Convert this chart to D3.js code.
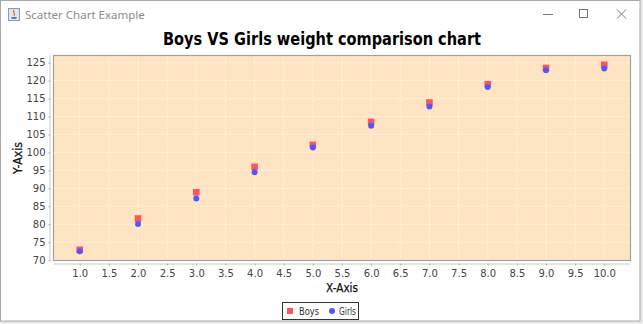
<!DOCTYPE html>
<html><head><meta charset="utf-8">
<script src="https://cdn.jsdelivr.net/npm/d3@7"></script>
<style>
html,body{margin:0;padding:0;background:#e8e8e8;}
svg{display:block;}
</style></head>
<body>
<script>
const xValues = [1, 2, 3, 4, 5, 6, 7, 8, 9, 10];
const boys  = [72.9, 81.6, 88.9, 96.0, 102.1, 108.5, 113.9, 119.0, 123.5, 124.4];
const girls = [72.5, 80.1, 87.2, 94.5, 101.4, 107.4, 112.8, 118.2, 122.9, 123.4];
const xTicks = [1.0,1.5,2.0,2.5,3.0,3.5,4.0,4.5,5.0,5.5,6.0,6.5,7.0,7.5,8.0,8.5,9.0,9.5,10.0];
const yTicks = [70,75,80,85,90,95,100,105,110,115,120,125];
const seriesNames = ["Boys", "Girls"];
const seriesColors = ["#ff5555", "#5555ff"];
const chartTitle = "Boys VS Girls weight comparison chart";
const windowTitle = "Scatter Chart Example";

const W = 643, H = 324;
const svg = d3.select("body").append("svg").attr("width", W).attr("height", H);

// window frame
svg.append("rect").attr("x",0).attr("y",0).attr("width",W).attr("height",H).attr("fill","#e9e9e9");
svg.append("rect").attr("x",0.5).attr("y",0.5).attr("width",639.5).attr("height",320.5)
  .attr("fill","#ffffff").attr("stroke","#a8a8a8");
// icon
const ic = svg.append("g").attr("transform","translate(8,8)");
ic.append("rect").attr("x",0.5).attr("y",0.5).attr("width",11).attr("height",12).attr("fill","#dfe6ee").attr("stroke","#8a9bb0");
ic.append("path").attr("d","M3,9 L9,9 L8,11 L4,11 Z").attr("fill","#5a7fb0");
ic.append("path").attr("d","M6,2 C4,4 8,5 6,8").attr("fill","none").attr("stroke","#e07020").attr("stroke-width",1.3);
svg.append("text").attr("x",25).attr("y",19).text(windowTitle)
  .attr("font-family","'Noto Sans', 'Open Sans', sans-serif").attr("font-size",11.5).attr("fill","#8c8c8c");
// window buttons
svg.append("line").attr("x1",543).attr("x2",553).attr("y1",14.5).attr("y2",14.5).attr("stroke","#777");
svg.append("rect").attr("x",579.5).attr("y",9.5).attr("width",8).attr("height",8).attr("fill","none").attr("stroke","#777");
svg.append("path").attr("d","M617,9.5 L626,18.5 M626,9.5 L617,18.5").attr("stroke","#777").attr("fill","none");

// chart title
svg.append("text").attr("x",322).attr("y",45).attr("text-anchor","middle")
  .attr("font-family","'DejaVu Sans', sans-serif").attr("font-weight","bold").attr("font-size",17.5)
  .attr("textLength",318).attr("lengthAdjust","spacingAndGlyphs")
  .attr("fill","#000").text(chartTitle);

// plot area
const pL = 53.5, pR = 630.5, pT = 55.5, pB = 260.5;
const x = d3.scaleLinear().domain([0.55, 10.45]).range([pL, pR]);
const allY = boys.concat(girls);
const yMin = d3.min(allY), yMax = d3.max(allY), m = (yMax - yMin) * 0.05;
const y = d3.scaleLinear().domain([yMin - m, yMax + m]).range([pB, pT]);

svg.append("rect").attr("x",pL).attr("y",pT).attr("width",pR-pL).attr("height",pB-pT)
  .attr("fill","#ffe4c4");

// gridlines
const grid = svg.append("g").attr("stroke","#ffffff").attr("stroke-width",0.8).attr("stroke-dasharray","2,2").attr("opacity",0.9);
grid.selectAll("line.v").data(xTicks).enter().append("line")
  .attr("x1",d=>x(d)).attr("x2",d=>x(d)).attr("y1",pT).attr("y2",pB);
grid.selectAll("line.h").data(yTicks).enter().append("line")
  .attr("y1",d=>y(d)).attr("y2",d=>y(d)).attr("x1",pL).attr("x2",pR);

svg.append("rect").attr("x",pL).attr("y",pT).attr("width",pR-pL).attr("height",pB-pT)
  .attr("fill","none").attr("stroke","#a0a0a0").attr("stroke-width",1.2);

// axes
const tickFont = "'DejaVu Sans', sans-serif";
const xAxis = d3.axisBottom(x).tickValues(xTicks).tickFormat(d3.format(".1f")).tickSize(2).tickSizeOuter(0).tickPadding(4);
const gx = svg.append("g").attr("transform",`translate(0,${pB+3})`).call(xAxis);
gx.select(".domain").attr("stroke","#c8c8c8").attr("d",`M${pL},0.5H${pR}`);
gx.selectAll(".tick line").attr("stroke","#aaa");
gx.selectAll("text").attr("font-family",tickFont).attr("font-size",10).attr("fill","#444");

const yAxis = d3.axisLeft(y).tickValues(yTicks).tickSize(2).tickSizeOuter(0).tickPadding(3);
const gy = svg.append("g").attr("transform",`translate(${pL-3},0)`).call(yAxis);
gy.select(".domain").attr("stroke","#c8c8c8").attr("d",`M-0.5,${pT}V${pB}`);
gy.selectAll(".tick line").attr("stroke","#aaa");
gy.selectAll("text").attr("font-family",tickFont).attr("font-size",10).attr("fill","#444");

// axis labels
svg.append("text").attr("x",(pL+pR)/2).attr("y",292).attr("text-anchor","middle")
  .attr("font-family",tickFont).attr("font-size",11.5).attr("fill","#111")
  .attr("stroke","#111").attr("stroke-width",0.25)
  .attr("textLength",32).attr("lengthAdjust","spacingAndGlyphs").text("X-Axis");
svg.append("text").attr("transform",`translate(22,${(pT+pB)/2}) rotate(-90)`).attr("text-anchor","middle")
  .attr("font-family",tickFont).attr("font-size",11.5).attr("fill","#111")
  .attr("stroke","#111").attr("stroke-width",0.25)
  .attr("textLength",32).attr("lengthAdjust","spacingAndGlyphs").text("Y-Axis");

// points
svg.append("g").selectAll("rect").data(xValues.map((d,i)=>({x:d,y:boys[i]}))).enter().append("rect")
  .attr("x",d=>x(d.x)-3.3).attr("y",d=>y(d.y)-3.3).attr("width",6.6).attr("height",6.6).attr("fill",seriesColors[0]);
svg.append("g").selectAll("circle").data(xValues.map((d,i)=>({x:d,y:girls[i]}))).enter().append("circle")
  .attr("cx",d=>x(d.x)).attr("cy",d=>y(d.y)).attr("r",3).attr("fill",seriesColors[1]);

// legend
const lg = svg.append("g");
lg.append("rect").attr("x",282.5).attr("y",302.5).attr("width",76).attr("height",17)
  .attr("fill","#fff").attr("stroke","#333");
lg.append("rect").attr("x",287).attr("y",308).attr("width",6).attr("height",6).attr("fill",seriesColors[0]);
lg.append("text").attr("x",299).attr("y",315).text(seriesNames[0])
  .attr("font-family",tickFont).attr("font-size",10).attr("fill","#333")
  .attr("textLength",20).attr("lengthAdjust","spacingAndGlyphs");
lg.append("circle").attr("cx",332).attr("cy",311).attr("r",3).attr("fill",seriesColors[1]);
lg.append("text").attr("x",339).attr("y",315).text(seriesNames[1])
  .attr("font-family",tickFont).attr("font-size",10).attr("fill","#333")
  .attr("textLength",17).attr("lengthAdjust","spacingAndGlyphs");
</script>
</body></html>
